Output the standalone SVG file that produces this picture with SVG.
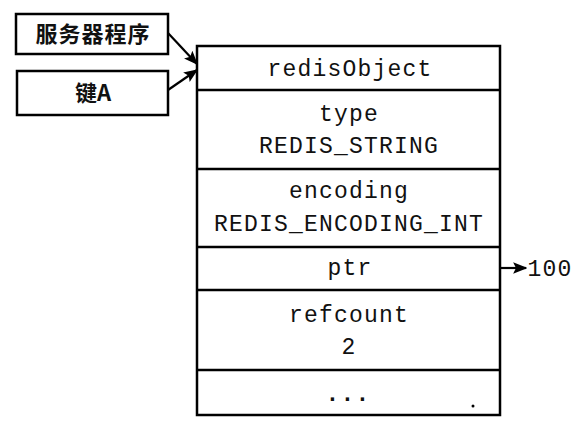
<svg xmlns="http://www.w3.org/2000/svg" width="580" height="430" viewBox="0 0 580 430">
<defs>
<marker id="ah" viewBox="0 0 10 10" refX="9" refY="5" markerWidth="6.5" markerHeight="6.5" orient="auto" markerUnits="strokeWidth">
<path d="M0,1 L10,5 L0,9 L2,5 Z" fill="#000"/>
</marker>
<style>
.box{fill:#fff;stroke:#000;stroke-width:2.5}
.div{stroke:#000;stroke-width:2.5}
.t{font-family:"Liberation Mono","DejaVu Sans Mono",monospace;font-size:23px;letter-spacing:1.2px;text-anchor:middle;fill:#111}
.cn{font-family:"Noto Sans CJK SC","Liberation Sans",sans-serif;font-size:22px;font-weight:bold;text-anchor:middle;fill:#111}
.ln{stroke:#000;stroke-width:2.2;fill:none}
</style>
</defs>
<rect width="580" height="430" fill="#fff"/>
<g id="server">
<rect class="box" x="16" y="14" width="152" height="40"/>
<text class="cn" x="93" y="42" letter-spacing="1">服务器程序</text>
</g>
<g id="keyA">
<rect class="box" x="17" y="71" width="151" height="44"/>
<text class="cn" x="93" y="101">键A</text>
</g>
<g id="redisObject">
<rect class="box" x="197" y="46" width="303" height="369"/>
<line class="div" x1="197" y1="90" x2="500" y2="90"/>
<line class="div" x1="197" y1="169" x2="500" y2="169"/>
<line class="div" x1="197" y1="247" x2="500" y2="247"/>
<line class="div" x1="197" y1="290" x2="500" y2="290"/>
<line class="div" x1="197" y1="370" x2="500" y2="370"/>
<text class="t" x="350" y="76">redisObject</text>
<text class="t" x="349" y="121">type</text>
<text class="t" x="349" y="153">REDIS_STRING</text>
<text class="t" x="349" y="198">encoding</text>
<text class="t" x="349" y="231">REDIS_ENCODING_INT</text>
<text class="t" x="350" y="275">ptr</text>
<text class="t" x="349" y="322">refcount</text>
<text class="t" x="349" y="354">2</text>
<text class="t" x="348" y="401" font-weight="bold">...</text>
<circle cx="473" cy="406" r="1.5" fill="#000"/>
</g>
<g id="value">
<text class="t" x="550" y="276">100</text>
</g>
<g id="connectors">
<line class="ln" x1="168" y1="33" x2="197" y2="64" marker-end="url(#ah)"/>
<line class="ln" x1="168" y1="90" x2="197" y2="70" marker-end="url(#ah)"/>
<line class="ln" x1="501" y1="268" x2="526" y2="268" marker-end="url(#ah)"/>
</g>
</svg>
